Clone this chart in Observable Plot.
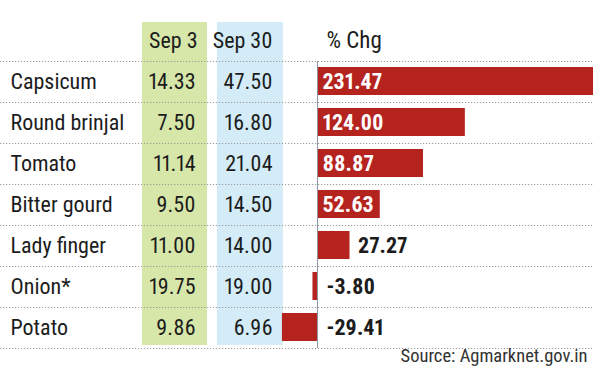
<!DOCTYPE html>
<html><head><meta charset="utf-8">
<script src="https://cdn.jsdelivr.net/npm/d3@7"></script>
<script src="https://cdn.jsdelivr.net/npm/@observablehq/plot@0.6"></script>
<style>body{margin:0;background:#fff}</style>
</head><body><div id="chart"></div>
<script>
// ---- data ----
const categories = ["Capsicum", "Round brinjal", "Tomato", "Bitter gourd", "Lady finger", "Onion*", "Potato"];
const sep3 = [14.33, 7.50, 11.14, 9.50, 11.00, 19.75, 9.86];
const sep30 = [47.50, 16.80, 21.04, 14.50, 14.00, 19.00, 6.96];
const pctChg = [231.47, 124.00, 88.87, 52.63, 27.27, -3.80, -29.41];
const headers = ["Sep 3", "Sep 30", "% Chg"];
const source = "Source: Agmarknet.gov.in";

// ---- layout / style ----
const HEAD = "__header";
const font = `"Roboto Condensed", "DejaVu Sans Condensed", sans-serif`;
const ink = "#1c1c1c";
const barRed = "#b5231f";
const cols = {
  name: 10, sep3End: 195, sep30End: 272, headSep3End: 197, headSep30End: 272, chgStart: 326,
  green: {x: 142, w: 65, fill: "#d7e6a9"},
  blue: {x: 217, w: 66, fill: "#d3ecf8"},
  bandTop: 22, bandBottom: 345
};
const fs = 22;
const fv = "proportional-nums";
const fmt = v => v.toFixed(2);

const rows = categories.map((name, i) => ({name, sep3: sep3[i], sep30: sep30[i], chg: pctChg[i]}));

function columnBands() {
  return (index, scales, values, dims) => {
    const g = d3.create("svg:g");
    for (const c of [cols.green, cols.blue]) {
      g.append("rect").attr("x", c.x).attr("y", cols.bandTop)
        .attr("width", c.w).attr("height", cols.bandBottom - cols.bandTop).attr("fill", c.fill);
    }
    return g.node();
  };
}

const txt = {fontSize: fs, fill: ink, fontVariant: fv};

const chart = Plot.plot({
  width: 600, height: 390,
  marginTop: 20, marginBottom: 42, marginLeft: 0, marginRight: 7,
  x: {domain: [-265.85, 231.47], axis: null},
  y: {domain: [HEAD, ...categories], axis: null, padding: 0},
  style: {fontFamily: font, background: "#fff", color: ink},
  marks: [
    columnBands(),
    Plot.ruleY(categories, {dy: -20.5, stroke: "#9a9a9a", strokeDasharray: "1.2,1.8"}),
    Plot.ruleY([categories[categories.length - 1]], {dy: 20.5, stroke: "#9a9a9a", strokeDasharray: "1.2,1.8"}),
    Plot.barX(rows, {x: "chg", y: "name", fill: barRed, insetTop: 6, insetBottom: 7}),
    Plot.ruleX([0], {insetTop: 41, stroke: "#8c96a3"}),
    // header
    Plot.text([headers[0]], {y: () => HEAD, text: d => d, frameAnchor: "left", dx: cols.headSep3End, textAnchor: "end", ...txt}),
    Plot.text([headers[1]], {y: () => HEAD, text: d => d, frameAnchor: "left", dx: cols.headSep30End, textAnchor: "end", ...txt}),
    Plot.text([headers[2]], {y: () => HEAD, text: d => d, frameAnchor: "left", dx: cols.chgStart, textAnchor: "start", ...txt, fontSize: fs + 1}),
    // table
    Plot.text(rows, {y: "name", text: "name", frameAnchor: "left", dx: cols.name, textAnchor: "start", ...txt}),
    Plot.text(rows, {y: "name", text: d => fmt(d.sep3), frameAnchor: "left", dx: cols.sep3End, textAnchor: "end", ...txt}),
    Plot.text(rows, {y: "name", text: d => fmt(d.sep30), frameAnchor: "left", dx: cols.sep30End, textAnchor: "end", ...txt}),
    // bar labels
    Plot.text(rows.filter(d => d.chg >= 40), {x: () => 0, y: "name", text: d => fmt(d.chg), textAnchor: "start", dx: 5, ...txt, fill: "white", fontWeight: "bold"}),
    Plot.text(rows.filter(d => d.chg > 0 && d.chg < 40), {x: "chg", y: "name", text: d => fmt(d.chg), textAnchor: "start", dx: 8, ...txt, fontWeight: "bold"}),
    Plot.text(rows.filter(d => d.chg < 0), {x: () => 0, y: "name", text: d => fmt(d.chg), textAnchor: "start", dx: 9, ...txt, fontWeight: "bold"}),
    // source
    Plot.text([source], {frameAnchor: "bottom-right", dx: -6, dy: 13, textAnchor: "end", fontSize: 18.5, fill: "#333"})
  ]
});
document.getElementById("chart").append(chart);
</script>
</body></html>
